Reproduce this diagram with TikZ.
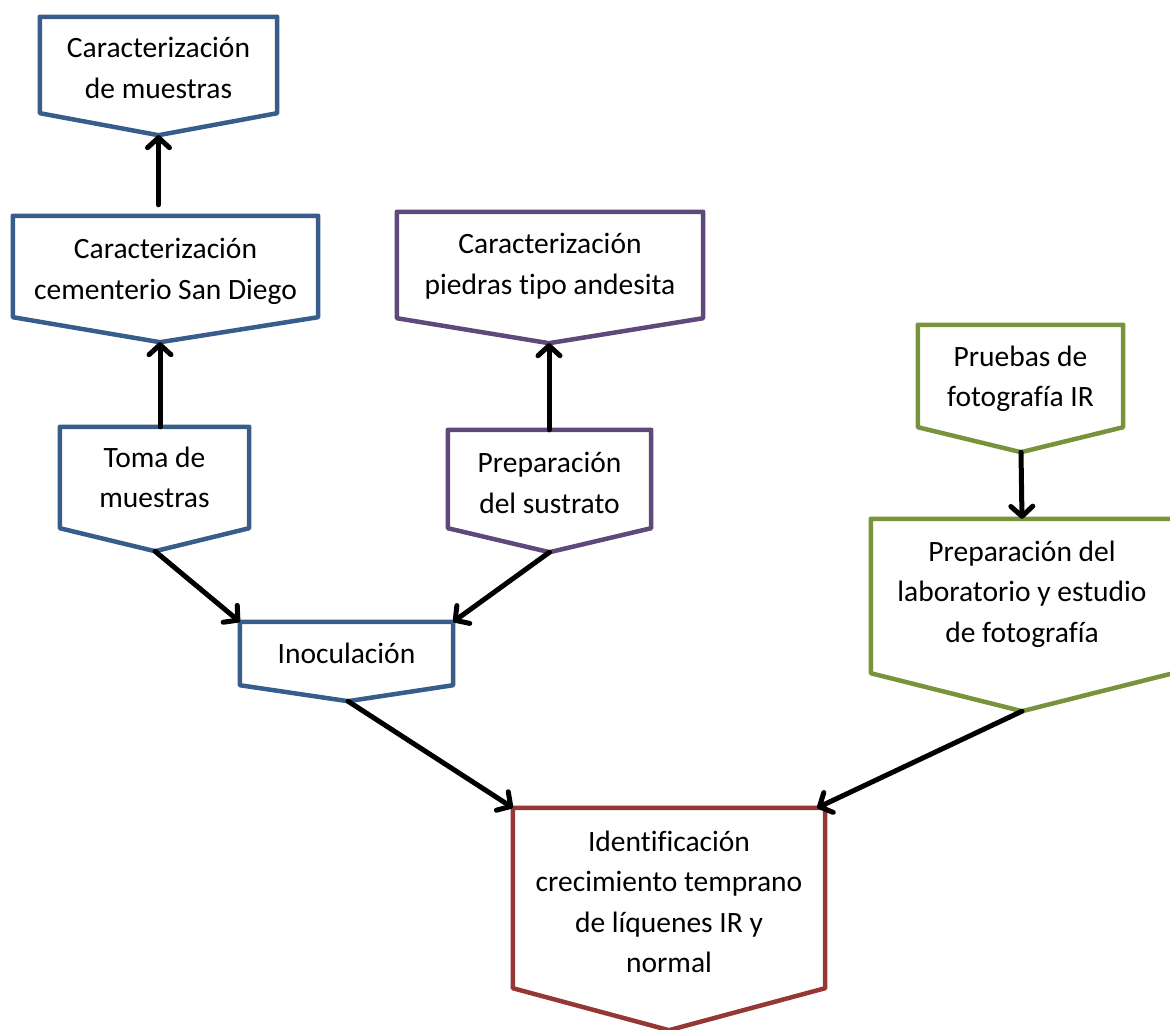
\documentclass[tikz,border=0pt]{standalone}
\usepackage{fontspec}
\setmainfont{Carlito}[Ligatures=NoCommon]
\usetikzlibrary{
    arrows.meta,
    calc
}
\definecolor{samplecolor}{RGB}{56, 93, 138}
\definecolor{stonecolor}{RGB}{95, 73, 122}
\definecolor{photocolor}{RGB}{119, 147, 60}
\definecolor{resultcolor}{RGB}{149, 55, 53}

\begin{document}
\begin{tikzpicture}[
    x=1pt, y=-1pt,
    % Step text (the outline with pointed bottom is drawn around it)
    stepbox/.style 2 args={
        rectangle,
        minimum width=#1,
        minimum height=#2,
        inner sep=0pt,
        align=center,
        font=\fontsize{29.5}{40.5}\selectfont
    },
    % Outline of a step
    frame/.style={
        draw=#1,
        line width=4.5pt,
        line join=round
    },
    % Arrow style
    arrow/.style={
        -{Straight Barb[round, length=10pt, width=22pt]},
        line width=5pt,
        line cap=round,
        black
    }
]

\clip (0,0) rectangle (1170,1030);

% ============================================
% SAMPLE BRANCH
% ============================================

\node[stepbox={237pt}{96pt}] (muestras) at (158.5, 68) {Caracterización\\de muestras};
\node[stepbox={305pt}{101pt}] (cementerio) at (165.5, 271.5) {Caracterización\\cementerio San Diego};
\node[stepbox={189pt}{101pt}] (toma) at (154.5, 477.5) {Toma de\\muestras};

% ============================================
% STONE BRANCH
% ============================================

\node[stepbox={306pt}{106pt}] (andesita) at (550, 266) {Caracterización\\piedras tipo andesita};
\node[stepbox={203pt}{98pt}] (sustrato) at (549.5, 483) {Preparación\\del sustrato};

\node[stepbox={213pt}{63pt}] (inoculacion) at (346.5, 653.5) {Inoculación};

% ============================================
% PHOTO BRANCH
% ============================================

\node[stepbox={205pt}{102pt}] (pruebas) at (1020.5, 379) {Pruebas de\\fotografía IR};
\node[stepbox={302pt}{154pt}] (laboratorio) at (1022, 594) {Preparación del\\laboratorio y estudio\\de fotografía};

% ============================================
% RESULT
% ============================================

\node[stepbox={312pt}{180pt}] (identificacion) at (669, 902)
    {\fontsize{29.5}{41.3}\selectfont Identificación\\crecimiento temprano\\de líquenes IR y\\normal};

% Outlines with pointed bottom (\s: text offset inside the outline)
\foreach \n/\dx/\d/\s/\col in {muestras/0/22/3/samplecolor,
                               cementerio/-5.5/25/5/samplecolor,
                               toma/0.5/23/0/samplecolor,
                               andesita/-1/25/1/stonecolor,
                               sustrato/0/24/4/stonecolor,
                               inoculacion/1.5/16/0/samplecolor,
                               pruebas/0.5/25/3/photocolor,
                               laboratorio/0/38/-2/photocolor,
                               identificacion/0/42/4/resultcolor} {
    \coordinate (\n-nw) at ($(\n.north west)+(0,-\s)$);
    \coordinate (\n-ne) at ($(\n.north east)+(0,-\s)$);
    \coordinate (\n-top) at ($(\n.north)+(0,-\s)$);
    \coordinate (\n-tip) at ($(\n.south)+(\dx,\d-\s)$);
    \draw[frame=\col] (\n-nw) -- (\n-ne) -- ($(\n.south east)+(0,-\s)$)
        -- (\n-tip) -- ($(\n.south west)+(0,-\s)$) -- cycle;
}

% ============================================
% CONNECTIONS
% ============================================

\draw[arrow] ($(cementerio-top -| muestras-tip)+(0,-11)$) -- (muestras-tip);
\draw[arrow] (toma-top -| cementerio-tip) -- (cementerio-tip);
\draw[arrow] (sustrato-top -| andesita-tip) -- (andesita-tip);
\draw[arrow] (toma-tip) -- (inoculacion-nw);
\draw[arrow] (sustrato-tip) -- (inoculacion-ne);
\draw[arrow] (inoculacion-tip) -- (identificacion-nw);
\draw[arrow] (pruebas-tip) -- (laboratorio-top);
\draw[arrow] (laboratorio-tip) -- ($(identificacion-ne)+(-8,0)$);

\end{tikzpicture}
\end{document}
